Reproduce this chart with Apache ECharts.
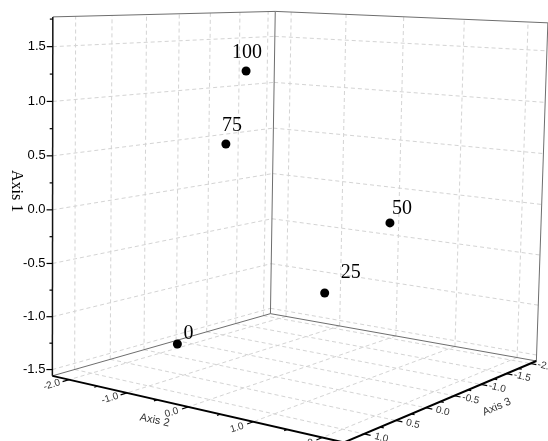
<!DOCTYPE html>
<html><head><meta charset="utf-8">
<script src="https://cdn.jsdelivr.net/npm/echarts@6/dist/echarts.min.js"></script>
<style>html,body{margin:0;padding:0;background:#fff}#c{width:548px;height:441px}</style>
</head><body><div id="c"></div>
<script>
// ---------- data ----------
const pointLabels = ['0', '25', '50', '75', '100'];
const axis1Values = [-1.25, -0.8, -0.1, 0.6, 1.3];
const axis2Values = [-1.02, 0.33, 1.1, -0.77, -0.42];
const axis3Values = [0.58, -0.44, -0.7, 0.11, 0.14];

const axis1Ticks = [-1.5, -1.0, -0.5, 0.0, 0.5, 1.0, 1.5];
const axis1Minor = [-1.25, -0.75, -0.25, 0.25, 0.75, 1.25, 1.75];
const axis2Ticks = [-2.0, -1.0, 0.0, 1.0, 2.0];
const axis2Minor = [-1.5, -0.5, 0.5, 1.5];
const axis3Ticks = [-2.0, -1.5, -1.0, -0.5, 0.0, 0.5, 1.0];
const axis3Minor = [-1.75, -1.25, -0.75, -0.25, 0.25, 0.75, 1.25];
const axis1Range = [-1.56, 1.77];
const axis2Range = [-2.3, 2.3];
const axis3Range = [-2.13, 1.3];
const axisTitles = ['Axis 1', 'Axis 2', 'Axis 3'];

// ---------- layout ----------
const W = 548, H = 441;
// box corners: [a2 norm, a3 norm, a1 norm, px, py]
const boxAnchors = [
  [0, 1, 0, 53, 378], [0, 1, 1, 53, 16],
  [0, 0, 0, 270, 312], [0, 0, 1, 275, 12],
  [1, 0, 0, 537, 362], [1, 0, 1, 548, 23],
  [1, 1, 0, 343, 441]
];
const pointLabelOffsets = [[11, -10], [26, -20], [12, -14], [6, -18], [1, -18]];

function fitCamera(anchors) {
  const rows = [], rhs = [];
  anchors.forEach(([X, Y, Z, px, py]) => {
    const u = px / 500, v = py / 500;
    rows.push([X, Y, Z, 1, 0, 0, 0, 0, -u * X, -u * Y, -u * Z]); rhs.push(u);
    rows.push([0, 0, 0, 0, X, Y, Z, 1, -v * X, -v * Y, -v * Z]); rhs.push(v);
  });
  const n = 11, M = [];
  for (let i = 0; i < n; i++) M.push(new Array(n + 1).fill(0));
  rows.forEach((r, k) => {
    for (let i = 0; i < n; i++) {
      for (let j = 0; j < n; j++) M[i][j] += r[i] * r[j];
      M[i][n] += r[i] * rhs[k];
    }
  });
  for (let c = 0; c < n; c++) {
    let piv = c;
    for (let r = c + 1; r < n; r++) if (Math.abs(M[r][c]) > Math.abs(M[piv][c])) piv = r;
    const tmp = M[c]; M[c] = M[piv]; M[piv] = tmp;
    for (let r = 0; r < n; r++) {
      if (r === c) continue;
      const f = M[r][c] / M[c][c];
      for (let j = c; j <= n; j++) M[r][j] -= f * M[c][j];
    }
  }
  return M.map((r, i) => r[n] / r[i]);
}
const P = fitCamera(boxAnchors);
const norm = (v, r) => (v - r[0]) / (r[1] - r[0]);
function projectN(X, Y, Z) {
  const w = P[8] * X + P[9] * Y + P[10] * Z + 1;
  return [500 * (P[0] * X + P[1] * Y + P[2] * Z + P[3]) / w,
          500 * (P[4] * X + P[5] * Y + P[6] * Z + P[7]) / w];
}
function project(a2, a3, a1) {
  return projectN(norm(a2, axis2Range), norm(a3, axis3Range), norm(a1, axis1Range));
}
const [lo1, hi1] = axis1Range, [lo2, hi2] = axis2Range, [lo3, hi3] = axis3Range;
const r2 = hi2 - lo2, r3 = hi3 - lo3;
const seg = (p, q) => { const a = project(...p), b = project(...q); return [a[0], a[1], b[0], b[1]]; };

// grid lines
const gridSegs = [];
axis1Ticks.forEach(t => { gridSegs.push(seg([lo2, hi3, t], [lo2, lo3, t])); gridSegs.push(seg([lo2, lo3, t], [hi2, lo3, t])); });
axis3Ticks.forEach(t => { gridSegs.push(seg([lo2, t, lo1], [lo2, t, hi1])); gridSegs.push(seg([lo2, t, lo1], [hi2, t, lo1])); });
axis2Ticks.forEach(t => { gridSegs.push(seg([t, lo3, lo1], [t, lo3, hi1])); gridSegs.push(seg([t, lo3, lo1], [t, hi3, lo1])); });
// box edges
const edgeSegs = [
  seg([lo2, hi3, hi1], [lo2, lo3, hi1]), seg([lo2, lo3, hi1], [hi2, lo3, hi1]),
  seg([lo2, lo3, lo1], [lo2, lo3, hi1]), seg([hi2, lo3, lo1], [hi2, lo3, hi1]),
  seg([lo2, hi3, lo1], [lo2, lo3, lo1]), seg([lo2, lo3, lo1], [hi2, lo3, lo1])
];
const axis1Seg = [seg([lo2, hi3, lo1], [lo2, hi3, hi1])];
const floorAxisSegs = [seg([lo2, hi3, lo1], [hi2, hi3, lo1]), seg([hi2, hi3, lo1], [hi2, lo3, lo1])];
// ticks
const tickSegs = [];
const hTick = (t, len) => { const p = project(lo2, hi3, t); tickSegs.push([p[0] - len, p[1], p[0], p[1]]); };
axis1Ticks.forEach(t => hTick(t, 6)); axis1Minor.forEach(t => { if (t <= hi1) hTick(t, 3); });
axis2Ticks.forEach(t => tickSegs.push(seg([t, hi3, lo1], [t, hi3 + 0.025 * r3, lo1])));
axis2Minor.forEach(t => tickSegs.push(seg([t, hi3, lo1], [t, hi3 + 0.013 * r3, lo1])));
axis3Ticks.forEach(t => tickSegs.push(seg([hi2, t, lo1], [hi2 + 0.02 * r2, t, lo1])));
axis3Minor.forEach(t => { if (t <= hi3) tickSegs.push(seg([hi2, t, lo1], [hi2 + 0.011 * r2, t, lo1])); });

// texts
const texts = [];
const SANS = 'Liberation Sans, Arial, sans-serif', SERIF = 'Liberation Serif, Times New Roman, serif';
axis1Ticks.forEach(t => { const p = project(lo2, hi3, t); texts.push({ x: p[0] - 7, y: p[1], text: t.toFixed(1), rot: 0, align: 'right', font: '13px ' + SANS }); });
axis2Ticks.forEach(t => { const p = project(t, hi3 + 0.066 * r3, lo1); texts.push({ x: p[0], y: p[1], text: t.toFixed(1), rot: 0.3, align: 'center', font: '10px ' + SANS, fill: '#333' }); });
axis3Ticks.forEach(t => { const p = project(hi2 + 0.052 * r2, t, lo1); texts.push({ x: p[0], y: p[1], text: t.toFixed(1), rot: -0.24, align: 'center', font: '10px ' + SANS, fill: '#333' }); });
(() => { const p = project(lo2, hi3, 0.1); texts.push({ x: 16, y: p[1] - 8, text: axisTitles[0], rot: -Math.PI / 2, align: 'center', font: '16px ' + SERIF }); })();
(() => { const p = project(-0.25, hi3, lo1); texts.push({ x: p[0] - 18, y: p[1] + 17, text: axisTitles[1], rot: -0.21, align: 'center', font: '11px ' + SANS, fill: '#333' }); })();
(() => { const p = project(hi2, -0.75, lo1); texts.push({ x: p[0] + 29, y: p[1] + 17, text: axisTitles[2], rot: 0.4, align: 'center', font: '11px ' + SANS, fill: '#333' }); })();

function segSeries(data, style, z) {
  return {
    type: 'custom', coordinateSystem: 'cartesian2d', silent: true, z: z, animation: false,
    encode: { x: [0, 2], y: [1, 3] }, data: data,
    renderItem: (params, api) => {
      const a = api.coord([api.value(0), api.value(1)]), b = api.coord([api.value(2), api.value(3)]);
      return { type: 'line', shape: { x1: a[0], y1: a[1], x2: b[0], y2: b[1] }, style: Object.assign({ fill: null }, style) };
    }
  };
}

const chart = echarts.init(document.getElementById('c'), null, { renderer: 'canvas' });
chart.setOption({
  animation: false,
  backgroundColor: '#ffffff',
  grid: { left: 0, right: 0, top: 0, bottom: 0 },
  xAxis: { type: 'value', min: 0, max: W, show: false },
  yAxis: { type: 'value', min: 0, max: H, inverse: true, show: false },
  series: [
    segSeries(gridSegs, { stroke: '#d4d4d4', lineWidth: 1, lineDash: [4, 3] }, 1),
    segSeries(edgeSegs, { stroke: '#6e6e6e', lineWidth: 1 }, 2),
    segSeries(axis1Seg, { stroke: '#111', lineWidth: 1.5 }, 3),
    segSeries(floorAxisSegs, { stroke: '#000', lineWidth: 2 }, 3),
    segSeries(tickSegs, { stroke: '#000', lineWidth: 1.2 }, 3),
    {
      type: 'custom', coordinateSystem: 'cartesian2d', silent: true, z: 4,
      encode: { x: 0, y: 1 }, data: texts.map(t => [t.x, t.y]),
      renderItem: (params, api) => {
        const t = texts[params.dataIndex]; const p = api.coord([api.value(0), api.value(1)]);
        return { type: 'text', x: p[0], y: p[1], rotation: t.rot,
          style: { text: t.text, fill: t.fill || '#000', font: t.font, align: t.align, verticalAlign: 'middle', textAlign: t.align, textVerticalAlign: 'middle' } };
      }
    },
    {
      type: 'scatter', z: 5, symbol: 'circle', symbolSize: 9,
      itemStyle: { color: '#000', opacity: 1 },
      label: { show: true, position: 'inside', formatter: '{b}', color: '#000', opacity: 1, fontFamily: SERIF, fontSize: 20, align: 'center', verticalAlign: 'middle', textBorderWidth: 0 },
      data: pointLabels.map((n, i) => ({ name: n, value: project(axis2Values[i], axis3Values[i], axis1Values[i]), label: { offset: pointLabelOffsets[i] } }))
    }
  ]
});
</script></body></html>
